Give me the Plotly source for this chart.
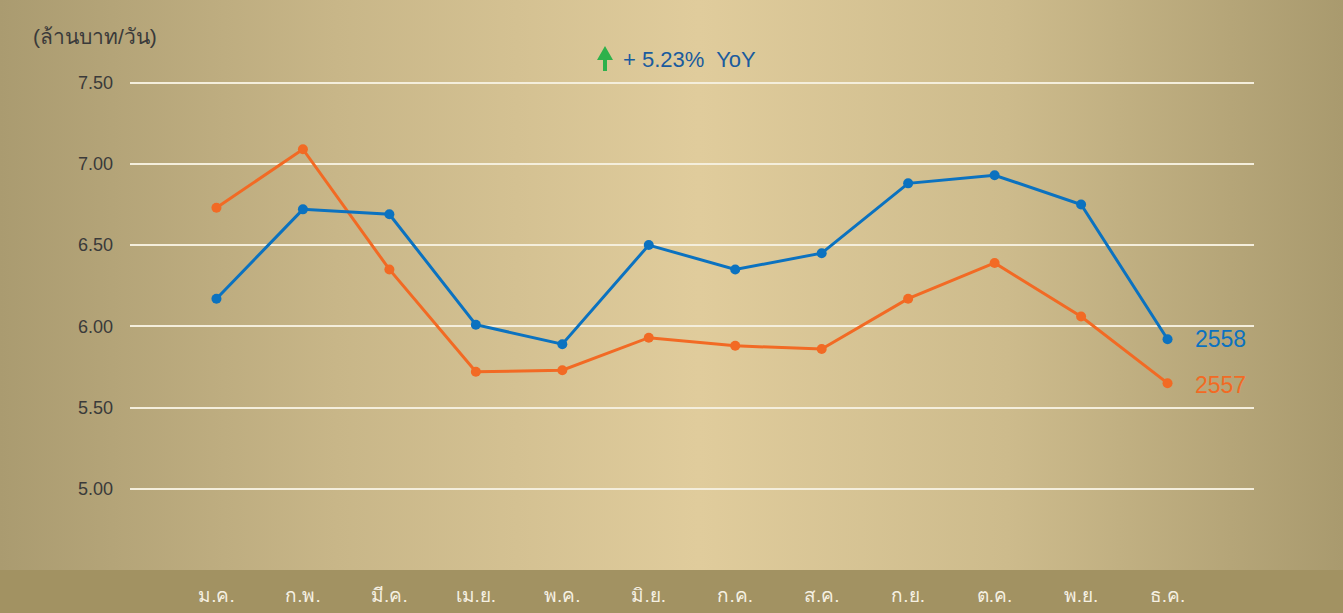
import base64
import plotly.graph_objects as go

months = ["ม.ค.", "ก.พ.", "มี.ค.", "เม.ย.", "พ.ค.", "มิ.ย.", "ก.ค.", "ส.ค.", "ก.ย.", "ต.ค.", "พ.ย.", "ธ.ค."]
y2558 = [6.17, 6.72, 6.69, 6.01, 5.89, 6.50, 6.35, 6.45, 6.88, 6.93, 6.75, 5.92]
y2557 = [6.73, 7.09, 6.35, 5.72, 5.73, 5.93, 5.88, 5.86, 6.17, 6.39, 6.06, 5.65]
ytick_vals = [5.0, 5.5, 6.0, 6.5, 7.0, 7.5]
ytick_text = ["5.00", "5.50", "6.00", "6.50", "7.00", "7.50"]

W, H = 1343, 613
L, R, T, B = 130, 89, 42, 43
pw, ph = W - L - R, H - T - B

BLUE = "#0b72c0"
ORANGE = "#f26a24"

svg = (
    '<svg xmlns="http://www.w3.org/2000/svg" width="1343" height="570" preserveAspectRatio="none">'
    '<defs><linearGradient id="g" x1="0" y1="0" x2="1" y2="0">'
    '<stop offset="0" stop-color="#aa9b70"/>'
    '<stop offset="0.25" stop-color="#c8b688"/>'
    '<stop offset="0.52" stop-color="#e0cc9c"/>'
    '<stop offset="0.75" stop-color="#cdbb8c"/>'
    '<stop offset="1" stop-color="#a99a6e"/>'
    '</linearGradient></defs>'
    '<rect width="1343" height="570" fill="url(#g)"/></svg>'
)
src = "data:image/svg+xml;base64," + base64.b64encode(svg.encode()).decode()

x = list(range(len(months)))

fig = go.Figure()
fig.add_trace(go.Scatter(x=x, y=y2557, mode="lines+markers", name="2557",
                         line=dict(color=ORANGE, width=3), marker=dict(size=10, color=ORANGE)))
fig.add_trace(go.Scatter(x=x, y=y2558, mode="lines+markers", name="2558",
                         line=dict(color=BLUE, width=3), marker=dict(size=10, color=BLUE)))

def px_x(p):
    return (p - L) / pw

def px_y(p):
    return (H - B - p) / ph

# green up arrow
ax0 = 605
tip_y, base_y, stem_y = 46, 60, 71
arrow_path = (
    f"M {px_x(ax0)},{px_y(tip_y)} L {px_x(ax0 + 8)},{px_y(base_y)} L {px_x(ax0 + 2)},{px_y(base_y)} "
    f"L {px_x(ax0 + 2)},{px_y(stem_y)} L {px_x(ax0 - 2)},{px_y(stem_y)} L {px_x(ax0 - 2)},{px_y(base_y)} "
    f"L {px_x(ax0 - 8)},{px_y(base_y)} Z"
)

fig.update_layout(
    width=W, height=H,
    margin=dict(l=L, r=R, t=T, b=B, autoexpand=False),
    paper_bgcolor="#a29262",
    plot_bgcolor="rgba(0,0,0,0)",
    showlegend=False,
    font=dict(family="Liberation Sans, Arial, sans-serif"),
    images=[dict(source=src, xref="paper", yref="paper",
                 x=-L / pw, y=1 + T / ph, sizex=W / pw, sizey=(H - B) / ph,
                 xanchor="left", yanchor="top", sizing="stretch", layer="below")],
    shapes=[dict(type="path", path=arrow_path, xref="paper", yref="paper",
                 fillcolor="#2db14b", line=dict(width=0))],
    xaxis=dict(range=[-1, 12], tickvals=x, ticktext=months, showgrid=False, zeroline=False,
               showline=False, ticks="", tickfont=dict(size=19, color="#f5f0e2"),
               ticklabelstandoff=12, automargin=False),
    yaxis=dict(range=[4.5, 7.75], tickvals=ytick_vals, ticktext=ytick_text, showgrid=True,
               gridcolor="#f4eedc", gridwidth=1.5, zeroline=False, showline=False, ticks="",
               tickfont=dict(size=18, color="#3a3a3a"), ticklabelstandoff=16, automargin=False),
    annotations=[
        dict(text="(ล้านบาท/วัน)", xref="paper", yref="paper", x=px_x(31), y=px_y(37),
             xanchor="left", yanchor="middle", showarrow=False,
             font=dict(size=21, color="#3a3a3a")),
        dict(text="+ 5.23%  YoY", xref="paper", yref="paper", x=px_x(621), y=px_y(59),
             xanchor="left", yanchor="middle", showarrow=False,
             font=dict(size=22, color="#1a5b9e")),
        dict(text="2558", x=11, y=y2558[11], xanchor="left", yanchor="middle", xshift=25,
             showarrow=False, font=dict(size=23, color=BLUE)),
        dict(text="2557", x=11, y=y2557[11], xanchor="left", yanchor="middle", xshift=25, yshift=-2,
             showarrow=False, font=dict(size=23, color=ORANGE)),
    ],
)

fig.write_html("out.html", config={"displayModeBar": False},
               post_script="document.body.style.margin='0';")
